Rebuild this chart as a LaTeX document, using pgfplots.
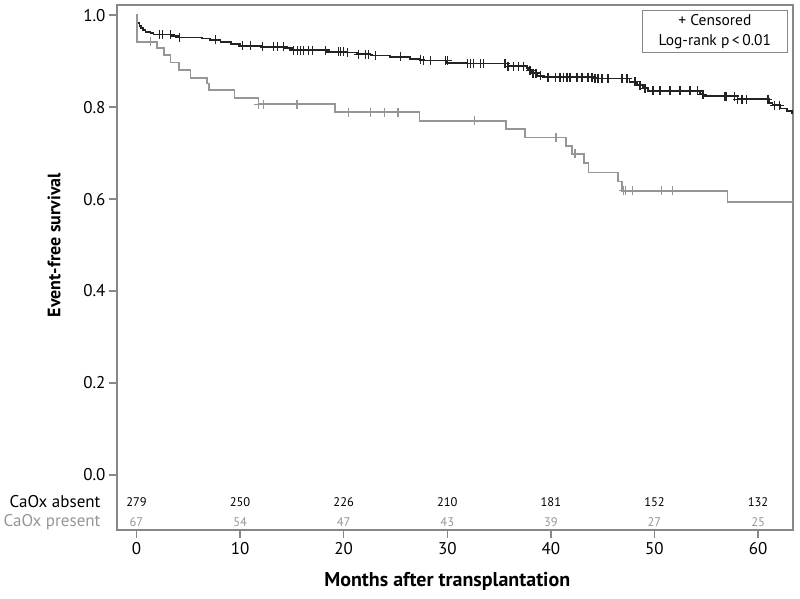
\documentclass[border=0pt]{standalone}
\usepackage{pgfplots}
\pgfplotsset{compat=1.18}
\usepackage{fontspec}
\setmainfont{PT Sans}
\definecolor{absentc}{RGB}{35,35,35}
\definecolor{presentc}{RGB}{150,150,150}
\definecolor{framec}{RGB}{135,135,135}
\tikzset{atrisk/.style={font=\fontsize{12.5}{14}\selectfont}}
\begin{document}
\begin{tikzpicture}
\useasboundingbox (-117pt,-69pt) rectangle (683pt,530pt);
\begin{axis}[
  at={(0,0)}, anchor=south west,
  scale only axis, width=676.3pt, height=525pt,
  xmin=-1.88, xmax=63.4, ymin=-0.1196, ymax=1.022,
  xtick={0,10,20,30,40,50,60},
  ytick={0,0.2,0.4,0.6,0.8,1.0},
  tick align=outside, tick pos=left,
  major tick length=8pt,
  tick style={framec, line width=1.3pt},
  axis line style={framec, line width=1.8pt},
  clip mode=individual,
  /pgf/number format/assume math mode=true,
  ticklabel style={font=\fontsize{17}{19}\selectfont},
  yticklabel style={/pgf/number format/.cd, fixed, fixed zerofill, precision=1},
  xticklabel style={yshift=-1pt},
  xlabel={Months after transplantation},
  ylabel={Event-free survival},
  xlabel style={font=\fontsize{20}{22}\selectfont\bfseries, at={(axis cs:30,-0.1196)}, yshift=-51pt, anchor=center},
  ylabel style={font=\fontsize{18}{20}\selectfont\bfseries, at={([xshift=-63pt]axis cs:-1.88,0.5)}, anchor=center},
]
% CaOx absent
\addplot[const plot, absentc, line width=1.7pt] coordinates {
(0,1.0)(0.1,0.983)(0.3,0.977)(0.45,0.972)(0.65,0.967)(0.87,0.963)(1.35,0.961)(1.64,0.958)(3.3,0.955)(4.1,0.951)(6.3,0.949)(7.1,0.946)(8.1,0.941)(9.1,0.937)(10.0,0.933)(12.0,0.931)(14.2,0.928)(15.1,0.924)(18.4,0.920)(20.3,0.919)(21.3,0.915)(22.6,0.912)(24.5,0.909)(26.4,0.904)(27.4,0.901)(30.0,0.896)(31.9,0.895)(35.8,0.889)(37.7,0.885)(37.8,0.880)(38.2,0.874)(38.7,0.868)(39.2,0.865)(44.1,0.862)(47.6,0.855)(48.3,0.848)(48.9,0.841)(49.4,0.835)(54.4,0.828)(54.7,0.824)(58.0,0.817)(61.1,0.809)(61.4,0.804)(62.1,0.797)(62.8,0.792)(63.3,0.786)(63.4,0.786)
};
\addplot[only marks, mark=+, mark size=4.5pt, absentc, mark options={line width=1.2pt}] coordinates {
(2.22,0.958)(2.51,0.958)(3.28,0.958)(4.15,0.951)(7.62,0.946)(10.22,0.933)(10.99,0.933)(12.15,0.931)(13.21,0.931)(13.60,0.931)(14.18,0.931)(15.14,0.924)(15.53,0.924)(15.81,0.924)(16.10,0.924)(16.59,0.924)(16.97,0.924)(18.23,0.924)(19.48,0.920)(19.67,0.920)(19.96,0.920)(20.35,0.919)(21.41,0.915)(22.08,0.915)(22.37,0.915)(23.05,0.912)(25.46,0.909)(27.39,0.904)(27.68,0.901)(28.35,0.901)(29.80,0.901)(29.99,0.901)(31.92,0.895)(32.21,0.895)(32.50,0.895)(33.17,0.895)(33.46,0.895)(35.58,0.895)(35.87,0.889)(36.36,0.889)(36.84,0.889)(37.32,0.889)(37.99,0.880)(38.28,0.874)(38.57,0.874)(38.96,0.868)(39.73,0.865)(40.41,0.865)(40.89,0.865)(41.18,0.865)(41.56,0.865)(41.85,0.865)(42.53,0.865)(43.01,0.865)(43.59,0.865)(43.97,0.865)(44.26,0.862)(44.55,0.862)(44.94,0.862)(45.52,0.862)(46.87,0.862)(47.35,0.862)(48.12,0.855)(48.60,0.848)(49.08,0.841)(49.86,0.835)(50.53,0.835)(51.49,0.835)(52.46,0.835)(53.42,0.835)(54.19,0.835)(54.68,0.828)(56.80,0.824)(56.99,0.824)(57.76,0.824)(58.05,0.817)(58.44,0.817)(58.92,0.817)(60.95,0.817)(61.62,0.804)(62.10,0.804)
};
% CaOx present
\addplot[const plot, presentc, line width=1.7pt] coordinates {
(0,1.0)(0.05,0.942)(2.0,0.928)(2.63,0.913)(3.28,0.897)(4.08,0.880)(5.21,0.864)(6.8,0.851)(6.97,0.837)(9.45,0.820)(11.79,0.806)(19.19,0.789)(27.32,0.770)(35.65,0.752)(37.51,0.734)(41.47,0.716)(42.01,0.698)(43.20,0.678)(43.62,0.658)(46.51,0.638)(46.84,0.618)(57.06,0.594)(63.4,0.594)
};
\addplot[only marks, mark=+, mark size=4.5pt, presentc, mark options={line width=1.2pt}] coordinates {
(1.35,0.942)(11.79,0.806)(12.27,0.806)(15.49,0.806)(20.47,0.789)(22.57,0.789)(23.94,0.789)(25.24,0.789)(32.59,0.770)(40.50,0.734)(42.33,0.698)(46.99,0.618)(47.22,0.618)(47.86,0.618)(50.69,0.618)(51.71,0.618)
};
% legend box
\node[draw=framec, line width=1.2pt, anchor=north east, minimum width=145.6pt, minimum height=41.7pt, align=center, inner sep=2pt, font=\fontsize{15.5}{20}\selectfont, fill=white]
  at ([xshift=-5pt,yshift=-5pt]rel axis cs:1,1) {+ Censored\\Log-rank p\,<\,0.01};
% at-risk table
\node[anchor=east, font=\fontsize{17}{19}\selectfont, text=black] at ([xshift=-13pt]axis cs:-1.88,-0.058) {CaOx absent};
\node[anchor=east, font=\fontsize{17}{19}\selectfont, text=presentc] at ([xshift=-13pt]axis cs:-1.88,-0.1015) {CaOx present};
\node[atrisk] at (axis cs:0,-0.058) {279};
\node[atrisk] at (axis cs:10,-0.058) {250};
\node[atrisk] at (axis cs:20,-0.058) {226};
\node[atrisk] at (axis cs:30,-0.058) {210};
\node[atrisk] at (axis cs:40,-0.058) {181};
\node[atrisk] at (axis cs:50,-0.058) {152};
\node[atrisk] at (axis cs:60,-0.058) {132};
\node[atrisk, text=presentc] at (axis cs:0,-0.1015) {67};
\node[atrisk, text=presentc] at (axis cs:10,-0.1015) {54};
\node[atrisk, text=presentc] at (axis cs:20,-0.1015) {47};
\node[atrisk, text=presentc] at (axis cs:30,-0.1015) {43};
\node[atrisk, text=presentc] at (axis cs:40,-0.1015) {39};
\node[atrisk, text=presentc] at (axis cs:50,-0.1015) {27};
\node[atrisk, text=presentc] at (axis cs:60,-0.1015) {25};
\end{axis}
\end{tikzpicture}
\end{document}
